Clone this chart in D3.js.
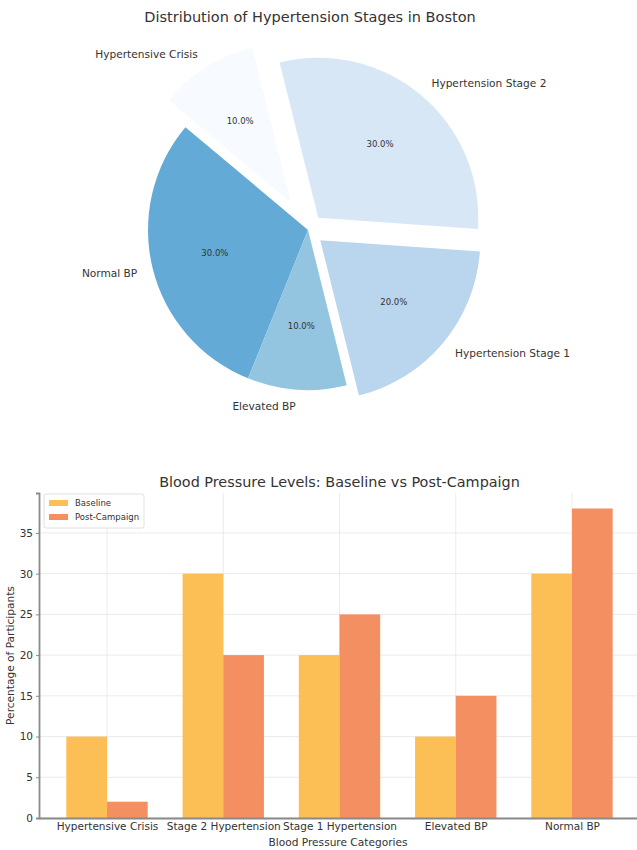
<!DOCTYPE html>
<html>
<head>
<meta charset="utf-8">
<script src="https://cdn.jsdelivr.net/npm/d3@7"></script>
<style>
  html, body { margin: 0; padding: 0; background: #fff; }
  svg { display: block; font-family: "DejaVu Sans", sans-serif; }
</style>
</head>
<body>
<svg id="chart" width="637" height="850"></svg>
<script>
// Pie: share of each hypertension stage
const pieLabels = ["Normal BP", "Elevated BP", "Hypertension Stage 1", "Hypertension Stage 2", "Hypertensive Crisis"];
const pieShares = [30, 10, 20, 30, 10];
const pieExplode = [0, 0, 0.1, 0.1, 0.2];
const pieColors = ["#64aad6", "#93c4e0", "#bad5ee", "#d8e7f6", "#f7fbff"];

// Bars: baseline vs post-campaign percentages
const barCategories = ["Hypertensive Crisis", "Stage 2 Hypertension", "Stage 1 Hypertension", "Elevated BP", "Normal BP"];
const baselineValues = [10, 30, 20, 10, 30];
const postValues = [2, 20, 25, 15, 38];
const yTickValues = [0, 5, 10, 15, 20, 25, 30, 35];
const seriesNames = ["Baseline", "Post-Campaign"];
const seriesColors = ["#fbbf55", "#f48f62"];

const svg = d3.select("#chart");
const textColor = "#333";

// ---------- Pie chart ----------
const cx = 308, cy = 230, R = 160;
const deg = Math.PI / 180;
// start at 140° (counter-clockwise from 3 o'clock), run counter-clockwise
const pie = d3.pie().sort(null).value(d => d).startAngle((90 - 140) * deg).endAngle((90 - 140 - 360) * deg);
const arcs = pie(pieShares);
const arcGen = d3.arc().innerRadius(0).outerRadius(R);

svg.append("text")
  .attr("x", 310).attr("y", 22)
  .attr("text-anchor", "middle")
  .attr("font-size", 14.5)
  .attr("fill", textColor)
  .text("Distribution of Hypertension Stages in Boston");

const pieG = svg.append("g").attr("transform", `translate(${cx},${cy})`);
arcs.forEach((a, i) => {
  const mid = (a.startAngle + a.endAngle) / 2;
  const ux = Math.sin(mid), uy = -Math.cos(mid);
  const off = pieExplode[i] * R;
  const g = pieG.append("g").attr("transform", `translate(${ux * off},${uy * off})`);
  g.append("path").attr("d", arcGen(a)).attr("fill", pieColors[i]);
  // percentage inside the wedge
  const pd = 0.6 * R;
  g.append("text")
    .attr("x", ux * pd).attr("y", uy * pd)
    .attr("text-anchor", "middle").attr("dominant-baseline", "central")
    .attr("font-size", 8.5).attr("fill", textColor)
    .text(d3.format(".1f")(a.value / d3.sum(pieShares) * 100) + "%");
  // category label outside
  const ld = 1.1 * R;
  g.append("text")
    .attr("x", ux * ld).attr("y", uy * ld)
    .attr("text-anchor", ux > 0 ? "start" : "end").attr("dominant-baseline", "central")
    .attr("font-size", 10.6).attr("fill", textColor)
    .text(pieLabels[i]);
});

// ---------- Bar chart ----------
const plotLeft = 39, plotRight = 640, plotTop = 493, plotBottom = 818;
const x = d3.scaleLinear().domain([-0.585, 4.585]).range([plotLeft, plotRight]);
const y = d3.scaleLinear().domain([0, 39.9]).range([plotBottom, plotTop]);
const bw = 0.35;

svg.append("text")
  .attr("x", (plotLeft + plotRight) / 2).attr("y", 487)
  .attr("text-anchor", "middle")
  .attr("font-size", 14.4)
  .attr("fill", textColor)
  .text("Blood Pressure Levels: Baseline vs Post-Campaign");

const barG = svg.append("g");
// grid
barG.selectAll("line.hgrid").data(yTickValues).enter().append("line")
  .attr("x1", plotLeft).attr("x2", plotRight)
  .attr("y1", d => y(d)).attr("y2", d => y(d))
  .attr("stroke", "#e6e6e6").attr("stroke-width", 0.8);
barG.selectAll("line.vgrid").data(barCategories).enter().append("line")
  .attr("x1", (d, i) => x(i)).attr("x2", (d, i) => x(i))
  .attr("y1", plotTop).attr("y2", plotBottom)
  .attr("stroke", "#e6e6e6").attr("stroke-width", 0.8);

// bars
const series = [baselineValues, postValues];
series.forEach((vals, s) => {
  barG.selectAll(null).data(vals).enter().append("rect")
    .attr("x", (d, i) => x(i + (s === 0 ? -bw : 0)))
    .attr("width", x(bw) - x(0))
    .attr("y", d => y(d))
    .attr("height", d => y(0) - y(d))
    .attr("fill", seriesColors[s]);
});

// axes
const yAxis = d3.axisLeft(y).tickValues(yTickValues).tickSize(3).tickPadding(3);
const yAxG = barG.append("g").attr("transform", `translate(${plotLeft},0)`).call(yAxis);
const xAxis = d3.axisBottom(x).tickValues(d3.range(barCategories.length)).tickFormat(i => barCategories[i]).tickSize(0).tickPadding(5);
const xAxG = barG.append("g").attr("transform", `translate(0,${plotBottom})`).call(xAxis);
[yAxG, xAxG].forEach(g => {
  g.select(".domain").attr("stroke", "#8a8a8a").attr("stroke-width", 1.8);
  g.selectAll(".tick line").attr("stroke", "#8a8a8a");
  g.selectAll("text").attr("fill", textColor).attr("font-size", 10.5).attr("font-family", "DejaVu Sans, sans-serif");
});

// axis titles
svg.append("text")
  .attr("x", 338).attr("y", 846)
  .attr("text-anchor", "middle").attr("font-size", 10.6).attr("fill", textColor)
  .text("Blood Pressure Categories");
svg.append("text")
  .attr("transform", `translate(14,${(plotTop + plotBottom) / 2}) rotate(-90)`)
  .attr("text-anchor", "middle").attr("font-size", 10.6).attr("fill", textColor)
  .text("Percentage of Participants");

// legend
const lg = svg.append("g").attr("transform", `translate(${plotLeft + 5},${plotTop + 1})`);
lg.append("rect").attr("width", 100).attr("height", 34).attr("rx", 2)
  .attr("fill", "#fff").attr("fill-opacity", 0.85).attr("stroke", "#e0e0e0");
seriesNames.forEach((n, i) => {
  lg.append("rect").attr("x", 5).attr("y", 9 + i * 14 - 3).attr("width", 19).attr("height", 6).attr("fill", seriesColors[i]);
  lg.append("text").attr("x", 31).attr("y", 9 + i * 14).attr("dominant-baseline", "central")
    .attr("font-size", 8.5).attr("fill", textColor).text(n);
});
</script>
</body>
</html>
